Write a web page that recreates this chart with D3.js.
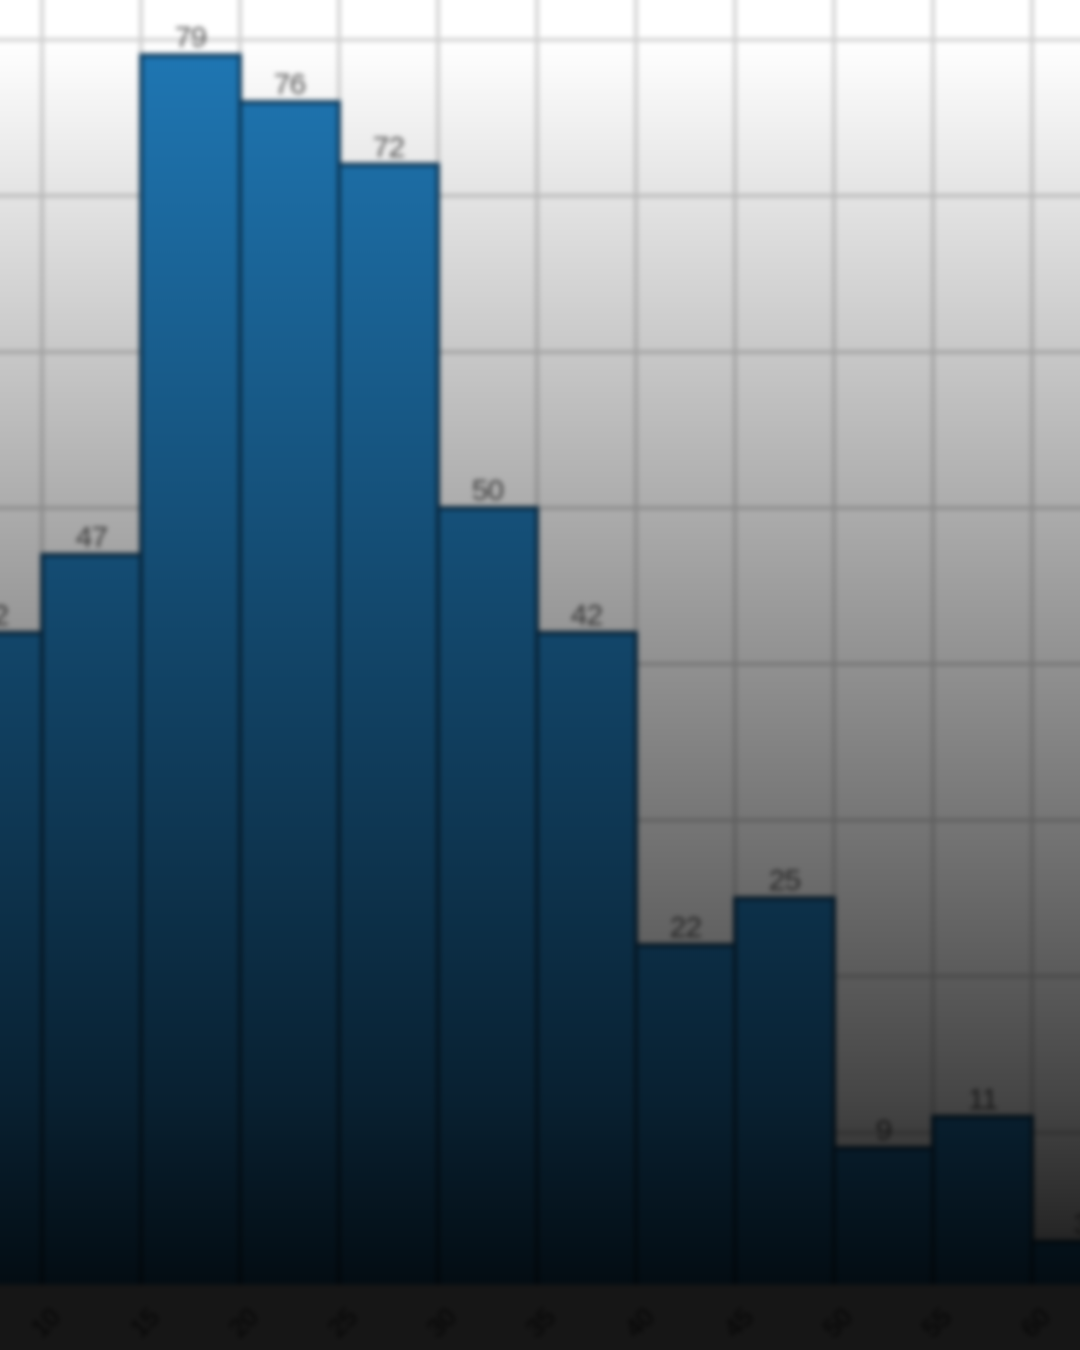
<!DOCTYPE html>
<html>
<head>
<meta charset="utf-8">
<script src="https://cdn.jsdelivr.net/npm/d3@7/dist/d3.min.js"></script>
<style>
html,body{margin:0;padding:0;background:#161616;overflow:hidden;}
svg{display:block;}
</style>
</head>
<body>
<script>
// ---- data ----
const binLabels = ["b1","b2","b3","b4","b5","b6","b7","b8","b9","b10","b11","b12"];
const counts = [42, 47, 79, 76, 72, 50, 42, 22, 25, 9, 11, 3];
const edgeLabels = ["10","15","20","25","30","35","40","45","50","55","60","65"];
const yTicks = [0, 10, 20, 30, 40, 50, 60, 70, 80];

const W = 1080, H = 1350;
const plotBottom = 1288.5;
const M = 120; // bleed beyond the viewport so blur has no edge artefacts
const svg = d3.select("body").append("svg").attr("width", W).attr("height", H);
const defs = svg.append("defs");

const shade = defs.append("linearGradient").attr("id","shade")
  .attr("gradientUnits","userSpaceOnUse").attr("x1",0).attr("y1",0).attr("x2",0).attr("y2",plotBottom);
[[0,0],[40/plotBottom,0],[600/plotBottom,0.39],[860/plotBottom,0.565],[1100/plotBottom,0.73],[1,0.9]]
  .forEach(([o,a]) => shade.append("stop").attr("offset",o).attr("stop-color","#000").attr("stop-opacity",a));

defs.append("filter").attr("id","soft")
  .attr("filterUnits","userSpaceOnUse").attr("x",-M).attr("y",-M).attr("width",W+2*M).attr("height",H+2*M)
  .attr("color-interpolation-filters","sRGB")
  .append("feGaussianBlur").attr("stdDeviation",2.4);

const x = d3.scaleBand().domain(binLabels).range([-57, -57 + 99 * binLabels.length]).padding(0);
const y = d3.scaleLinear().domain([0, 80]).range([plotBottom, 39.7]);

const g = svg.append("g").attr("filter","url(#soft)");

// background
g.append("rect").attr("x",-M).attr("y",-M).attr("width",W+2*M).attr("height",plotBottom+M).attr("fill","#ffffff");

// horizontal grid
g.append("g").selectAll("line").data(yTicks).join("line")
  .attr("x1",-M).attr("x2",W+M).attr("y1",d=>y(d)).attr("y2",d=>y(d))
  .attr("stroke","#cdcdcd").attr("stroke-width",3.5);

// vertical grid at bin edges
const edges = binLabels.map(b => x(b) + x.bandwidth());
g.append("g").selectAll("line").data(edges).join("line")
  .attr("x1",d=>d).attr("x2",d=>d).attr("y1",-M).attr("y2",plotBottom)
  .attr("stroke","#cdcdcd").attr("stroke-width",3.5);

// bars
g.append("g").selectAll("rect").data(counts).join("rect")
  .attr("x",(d,i)=>x(binLabels[i]))
  .attr("y",d=>y(d))
  .attr("width",x.bandwidth())
  .attr("height",d=>plotBottom - y(d))
  .attr("fill","#1f77b4")
  .attr("stroke","#0c3a5c").attr("stroke-width",4);

// value labels
g.append("g").selectAll("text").data(counts).join("text")
  .attr("x",(d,i)=>x(binLabels[i]) + x.bandwidth()/2)
  .attr("y",d=>y(d) - 8)
  .attr("text-anchor","middle")
  .attr("font-family","Liberation Sans, Arial, sans-serif")
  .attr("font-size",30)
  .attr("letter-spacing","-1")
  .attr("fill","#555555")
  .text(d=>d);

// darkening overlay
g.append("rect").attr("x",-M).attr("y",-M).attr("width",W+2*M).attr("height",plotBottom+M).attr("fill","url(#shade)");

// bottom axis band
g.append("rect").attr("x",-M).attr("y",plotBottom - 4).attr("width",W+2*M).attr("height",H - plotBottom + 4 + M).attr("fill","#161616");

// x tick labels at bin edges
g.append("g").selectAll("text").data(edgeLabels).join("text")
  .attr("transform",(d,i)=>`translate(${edges[i] + 20},${plotBottom + 30}) rotate(-45)`)
  .attr("text-anchor","end")
  .attr("font-family","Liberation Sans, Arial, sans-serif")
  .attr("font-size",26)
  .attr("fill","#050505")
  .text(d=>d);
</script>
</body>
</html>
